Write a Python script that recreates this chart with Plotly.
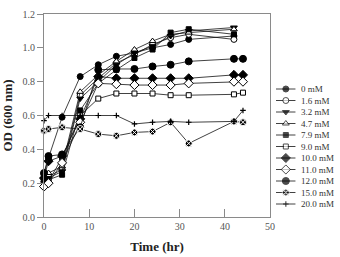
import plotly.graph_objects as go

# ---------------- data ----------------
time_hr = [0, 1, 4, 8, 12, 16, 20, 24, 28, 32, 42, 44]

conc_labels = ["0 mM", "1.6 mM", "3.2 mM", "4.7 mM", "7.9 mM", "9.0 mM",
               "10.0 mM", "11.0 mM", "12.0 mM", "15.0 mM", "20.0 mM"]

od_0mM   = [0.25, 0.35, 0.59, 0.83, 0.90, 0.95, 0.97, 1.00, 1.02, 1.05, 1.07, None]
od_1_6mM = [0.22, 0.24, 0.28, 0.72, 0.82, 0.91, 0.96, 1.02, 1.06, 1.08, 1.05, None]
od_3_2mM = [0.20, 0.23, 0.27, 0.70, 0.80, 0.90, 0.97, 1.01, 1.07, 1.10, 1.12, None]
od_4_7mM = [0.24, 0.26, 0.30, 0.74, 0.84, 0.92, 0.99, 1.04, 1.08, 1.09, 1.11, None]
od_7_9mM = [0.21, 0.22, 0.25, 0.63, 0.79, 0.87, 0.94, 0.99, 1.09, 1.11, 1.08, None]
od_9_0mM = [0.19, 0.21, 0.35, 0.60, 0.70, 0.73, 0.73, 0.73, 0.72, 0.72, 0.725, 0.735]
od_10mM  = [0.23, 0.33, 0.36, 0.58, 0.83, 0.82, 0.82, 0.82, 0.82, 0.82, 0.84, 0.84]
od_11mM  = [0.18, 0.20, 0.32, 0.56, 0.79, 0.785, 0.78, 0.78, 0.78, 0.79, 0.80, 0.80]
od_12mM  = [0.26, 0.36, 0.37, 0.53, 0.87, 0.875, 0.875, 0.89, 0.90, 0.92, 0.935, 0.935]
od_15mM  = [0.51, 0.52, 0.53, 0.52, 0.49, 0.48, 0.50, 0.505, 0.56, 0.435, 0.565, 0.56]
od_20mM  = [0.57, 0.60, 0.60, 0.60, 0.60, 0.60, 0.55, 0.56, 0.565, 0.56, 0.565, 0.63]

series = [od_0mM, od_1_6mM, od_3_2mM, od_4_7mM, od_7_9mM, od_9_0mM,
          od_10mM, od_11mM, od_12mM, od_15mM, od_20mM]

x_ticks = [0, 10, 20, 30, 40, 50]
y_ticks = [0.0, 0.2, 0.4, 0.6, 0.8, 1.0, 1.2]

# ---------------- styles ----------------
FONT = "Liberation Serif"
styles = [
    dict(symbol="circle", size=6, color="black", line=dict(color="black", width=1)),
    dict(symbol="circle", size=6, color="white", line=dict(color="black", width=1)),
    dict(symbol="triangle-down", size=6, color="black", line=dict(color="black", width=1)),
    dict(symbol="triangle-up", size=6, color="white", line=dict(color="black", width=1)),
    dict(symbol="square", size=5, color="black", line=dict(color="black", width=1)),
    dict(symbol="square", size=5, color="white", line=dict(color="black", width=1)),
    dict(symbol="diamond", size=7, color="black", line=dict(color="black", width=1)),
    dict(symbol="diamond", size=7, color="white", line=dict(color="black", width=1)),
    dict(symbol="circle", size=7, color="black", line=dict(color="black", width=1)),
    dict(symbol="circle-x", size=7, color="black", line=dict(color="white", width=1)),
    dict(symbol="cross-thin", size=4, color="black", line=dict(color="black", width=1.2)),
]

fig = go.Figure()

for lab, vals, st in zip(conc_labels, series, styles):
    fig.add_trace(go.Scatter(
        x=time_hr, y=vals, mode="lines+markers", name=lab,
        line=dict(color="#111", width=0.8),
        marker=st, showlegend=False, cliponaxis=False,
        xaxis="x", yaxis="y"))

# ---------------- custom legend (compact rows) ----------------
W, H = 340, 257
ml, mr, mt, mb = 44, 0, 14, 40
pw = W - ml - mr
ph = H - mt - mb
main_right = 274
row0, row_gap = 89, 11.5

for i, (lab, st) in enumerate(zip(conc_labels, styles)):
    d = row0 - mt + i * row_gap
    mk = dict(st)
    mk["size"] = [0, st["size"], 0]
    fig.add_trace(go.Scatter(
        x=[0, 0.5, 1], y=[d, d, d], mode="lines+markers",
        line=dict(color="#111", width=0.8), marker=mk,
        showlegend=False, hoverinfo="skip", xaxis="x2", yaxis="y2"))
    fig.add_annotation(
        x=(303 - ml) / pw, xref="paper", y=d, yref="y2",
        text=lab, showarrow=False, xanchor="left", yanchor="middle",
        font=dict(family=FONT, size=9, color="#333"))

axis_col = "#8a8a8a"
fig.update_layout(
    width=W, height=H,
    margin=dict(l=ml, r=mr, t=mt, b=mb, pad=0),
    paper_bgcolor="white", plot_bgcolor="white",
    font=dict(family=FONT, size=10, color="#555"),
    xaxis=dict(domain=[0, (main_right - ml) / pw], range=[0, 50],
               tickvals=x_ticks, ticks="inside", ticklen=8, tickcolor=axis_col,
               showline=True, linecolor=axis_col, linewidth=1, mirror=True,
               showgrid=False, zeroline=False,
               tickfont=dict(family=FONT, size=10, color="#555"),
               title=dict(text="<b>Time (hr)</b>", standoff=10,
                          font=dict(family=FONT, size=13, color="#222"))),
    yaxis=dict(domain=[0, 1], range=[0, 1.2],
               tickvals=y_ticks, tickformat=".1f", ticks="outside", ticklen=6,
               tickcolor=axis_col,
               showline=True, linecolor=axis_col, linewidth=1, mirror=True,
               showgrid=False, zeroline=False,
               tickfont=dict(family=FONT, size=10, color="#555"),
               title=dict(text="<b>OD (600 nm)</b>", standoff=6,
                          font=dict(family=FONT, size=13, color="#222"))),
    xaxis2=dict(domain=[(280 - ml) / pw, (300 - ml) / pw], range=[0, 1],
                visible=False, anchor="y2"),
    yaxis2=dict(domain=[0, 1], range=[ph, 0], visible=False, anchor="x2"),
)

fig.write_html("out.html")
